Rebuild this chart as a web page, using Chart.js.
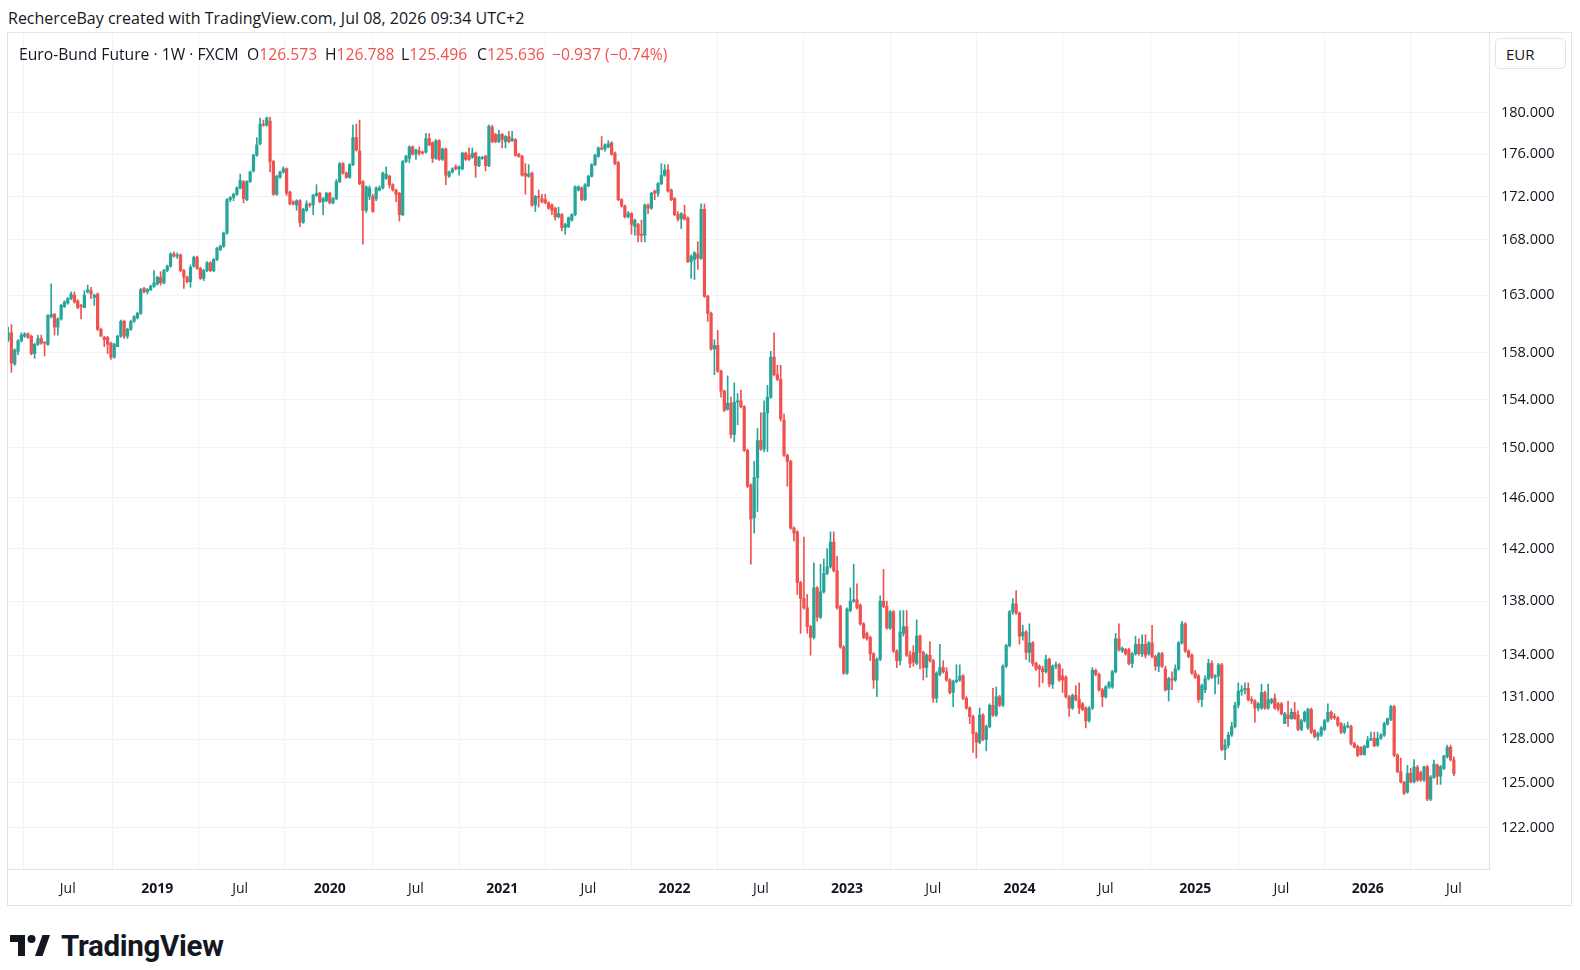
<!DOCTYPE html>
<html>
<head>
<meta charset="utf-8">
<script src="https://cdn.jsdelivr.net/npm/chart.js@4.4.1/dist/chart.umd.min.js"></script>
<style>
  body { margin: 0; width: 1580px; height: 970px; background: #fff; position: relative; overflow: hidden;
         font-family: "Open Sans", "Noto Sans", sans-serif; color: #131722; }
  #header { position: absolute; left: 8px; top: 7px; font-size: 16px; white-space: nowrap; }
  #frame { position: absolute; left: 7px; top: 32px; width: 1563px; height: 872px; border: 1px solid #e0e3eb; }
  #chartWrap { position: absolute; left: 8px; top: 33px; width: 1562px; height: 872px; }
  .lg { position: absolute; top: 43px; font-size: 15.7px; white-space: nowrap; }
  .dn { color: #ef5350; }
  #eur { position: absolute; left: 1495px; top: 38px; width: 71px; height: 31px; border: 1px solid #e0e3eb;
         border-radius: 5px; font-size: 15px; line-height: 30px; text-align: left; padding-left: 10px; box-sizing: border-box; background: #fff; }
  #logo { position: absolute; left: 10px; top: 929px; height: 34px; white-space: nowrap; }
  #logo span { font-family: Roboto, sans-serif; font-size: 29.5px; font-weight: 700; vertical-align: middle; letter-spacing: -0.3px; }
  #logo svg { vertical-align: middle; margin-right: 9px; }
</style>
</head>
<body>
<div id="header">RecherceBay created with TradingView.com, Jul 08, 2026 09:34 UTC+2</div>
<div id="frame"></div>
<div id="chartWrap"><canvas id="chart" width="1562" height="872"></canvas></div>
<div class="lg" style="left:19px">Euro-Bund Future · 1W · FXCM</div>
<div class="lg" style="left:247px">O<span class="dn">126.573</span></div>
<div class="lg" style="left:325px">H<span class="dn">126.788</span></div>
<div class="lg" style="left:401px">L<span class="dn">125.496</span></div>
<div class="lg" style="left:477px">C<span class="dn">125.636</span></div>
<div class="lg dn" style="left:552px">−0.937 (−0.74%)</div>
<div id="eur">EUR</div>
<div id="logo"><svg width="42" height="22" viewBox="0 0 42 22"><path d="M0 0H15V21H8V7H0Z" fill="#131722"/><circle cx="21.5" cy="4" r="4" fill="#131722"/><path d="M25 21L32.5 0H40L32.5 21Z" fill="#131722"/></svg><span>TradingView</span></div>

<script>
// weekly bars, first bar = week of 2018-02-26
const startDate = Date.UTC(2018, 1, 26);

const openPrices = [
  159.1,159.7,157.0,158.1,159.0,159.4,159.6,159.4,157.9,158.7,
  159.2,158.9,158.7,161.1,161.3,160.2,160.9,162.0,162.3,162.7,
  163.0,162.5,162.1,161.9,163.3,163.4,162.8,163.1,160.0,159.3,
  159.3,158.8,157.6,158.5,159.4,160.7,159.4,160.0,160.7,161.0,
  161.4,163.6,163.3,163.5,163.8,164.0,164.6,164.1,165.2,165.6,
  166.7,166.5,166.6,165.2,164.6,164.2,165.6,166.4,165.4,164.5,
  165.2,165.9,165.2,166.2,167.1,167.4,168.6,171.7,171.9,172.2,
  172.8,173.4,171.7,173.4,174.4,175.9,177.0,178.9,178.8,179.2,
  175.3,172.2,173.8,174.3,174.6,172.4,171.5,171.2,171.6,169.6,
  170.7,171.3,171.2,172.1,172.3,171.5,171.6,172.3,171.4,171.8,
  173.4,175.1,174.2,173.8,175.0,177.6,176.3,173.4,170.7,172.0,
  172.0,171.8,172.6,172.8,173.7,173.9,173.1,172.6,172.3,170.3,
  175.3,175.6,176.7,176.0,176.3,176.2,176.2,177.5,177.1,175.6,
  177.3,175.5,176.5,173.9,174.3,174.8,174.6,174.6,176.1,175.9,
  175.7,176.1,174.9,175.6,175.8,174.9,178.6,177.9,177.2,177.9,
  177.2,177.7,177.3,177.4,176.0,175.8,174.2,173.9,174.2,171.2,
  172.0,171.8,171.7,171.4,171.2,170.9,170.1,170.3,169.1,169.2,
  169.8,170.3,172.6,172.8,171.7,173.0,173.9,175.0,175.8,176.6,
  176.5,176.7,177.1,176.1,175.2,171.7,171.1,170.1,170.4,169.2,
  169.4,168.5,168.4,171.2,170.9,172.5,172.3,173.2,174.0,174.5,
  172.6,171.8,170.3,169.9,170.3,170.0,166.0,166.2,166.7,166.3,
  170.8,162.9,161.4,158.3,158.6,156.4,154.7,153.2,153.7,151.1,
  153.8,153.9,153.4,149.8,147.0,144.4,147.6,150.6,149.9,152.9,
  154.2,157.6,156.1,155.7,152.3,149.4,148.9,143.6,143.3,139.4,
  138.2,137.5,136.1,135.3,139.0,136.8,138.7,140.1,140.6,142.5,
  140.3,137.6,134.6,132.7,137.3,138.0,138.1,137.7,136.3,135.6,
  135.3,134.1,132.2,133.7,138.0,137.6,136.0,137.2,134.3,133.6,
  135.6,136.1,134.0,134.2,133.4,135.4,134.2,133.1,134.0,133.6,
  130.9,132.6,133.1,132.8,132.2,131.3,132.1,132.2,132.5,130.9,
  130.2,129.6,128.4,127.8,129.7,128.0,128.9,130.4,129.7,131.0,
  130.4,133.2,134.7,137.2,137.8,137.1,135.4,135.7,134.2,134.9,
  133.4,133.2,133.0,132.8,133.7,131.9,133.2,133.3,132.5,132.4,
  131.0,130.2,131.1,130.8,130.5,130.2,129.3,130.2,132.9,132.6,
  131.5,131.0,131.7,131.7,132.8,135.2,134.3,134.4,134.4,133.4,
  134.1,134.8,134.1,134.8,134.1,134.9,133.9,133.2,134.1,133.0,
  131.5,132.3,132.2,133.0,134.9,136.3,134.3,134.0,132.7,132.5,
  130.8,131.5,132.3,133.4,132.4,132.5,133.3,127.3,127.6,128.3,
  128.9,130.4,131.4,131.5,131.6,130.8,130.7,130.2,130.2,131.3,
  130.2,130.6,130.9,130.5,130.5,129.1,129.7,129.45,129.9,129.7,
  128.7,129.3,128.8,130.1,128.6,128.2,128.3,128.7,129.3,129.9,
  129.6,129.5,129.1,128.5,128.85,128.9,127.7,127.5,127.45,126.95,
  127.45,127.95,128.07,127.6,128.07,128.3,129.06,129.4,130.3,126.9,
  125.76,125.07,124.38,125.65,125.07,126.06,125.7,125.2,126.1,123.9,
  125.37,126.22,125.46,126.0,126.8,127.45,126.573
];

const highPrices = [
  160.2,160.4,158.3,159.1,159.7,159.7,159.7,159.5,158.8,159.5,
  159.5,158.9,161.3,164.0,161.4,161.0,162.2,162.5,162.8,163.3,
  163.3,162.6,162.2,163.4,163.9,163.7,163.1,163.2,160.1,159.4,
  159.4,158.9,158.8,159.5,160.8,160.8,160.1,160.8,161.2,161.5,
  163.6,163.7,163.6,163.9,165.2,164.7,165.1,165.3,165.7,166.8,
  166.9,166.8,166.7,165.3,164.7,165.7,166.5,166.5,165.5,165.3,
  166.0,166.0,166.3,167.3,167.5,168.7,171.8,172.0,172.3,172.9,
  174.1,173.5,173.5,174.4,176.0,177.6,179.5,179.3,179.6,179.6,
  175.4,174.0,174.4,174.8,174.7,172.5,171.6,171.7,171.7,170.9,
  171.6,171.4,172.2,173.1,172.4,171.9,172.4,172.4,171.9,173.6,
  175.2,175.2,174.3,175.1,178.8,178.9,179.3,173.5,173.0,173.0,
  172.2,172.9,173.0,174.3,174.8,174.0,173.2,172.7,172.4,175.4,
  175.9,176.8,176.8,176.5,176.7,176.3,178.0,178.0,177.2,177.4,
  177.4,176.6,176.6,174.4,174.7,175.0,174.9,176.2,176.2,176.6,
  176.6,176.2,175.8,175.8,175.9,178.8,178.8,178.0,178.3,178.0,
  177.8,178.2,178.2,177.5,176.1,175.9,175.1,175.0,174.3,172.1,
  172.6,172.2,172.2,171.5,171.3,171.0,171.0,170.4,169.5,170.1,
  170.4,173.0,173.0,172.9,173.2,174.0,175.1,176.0,176.7,177.7,
  177.0,177.3,177.2,176.2,175.3,171.8,171.2,170.6,170.5,169.9,
  169.5,169.8,171.3,171.3,172.4,172.6,173.3,175.1,175.0,175.0,
  172.7,171.9,170.6,170.5,171.2,170.1,166.6,166.9,167.8,171.3,
  171.3,163.0,161.5,159.1,159.9,156.5,154.8,156.0,154.2,155.4,
  154.5,154.8,153.5,149.9,147.1,148.9,151.6,152.9,153.9,155.2,
  158.1,159.7,156.9,156.9,152.8,149.5,149.0,143.7,143.4,139.5,
  142.9,138.5,136.2,140.9,139.1,140.8,141.2,142.0,143.3,143.3,
  141.4,137.7,134.7,137.5,139.0,140.8,139.3,137.8,136.4,135.7,
  135.4,134.2,133.8,138.4,140.4,138.0,137.3,137.3,134.4,137.3,
  137.3,137.3,134.3,134.7,136.6,135.5,134.3,134.1,135.0,133.7,
  132.8,134.8,133.6,133.1,132.3,132.2,133.3,133.3,132.6,131.0,
  130.3,129.7,128.5,130.2,129.8,129.0,130.5,131.6,131.7,131.1,
  133.3,134.8,137.3,138.2,138.8,137.2,136.2,135.8,136.3,135.0,
  133.5,133.3,133.2,134.0,133.8,133.3,133.5,133.4,133.0,132.5,
  131.1,131.2,131.8,132.0,130.6,130.3,130.3,133.1,133.0,132.7,
  131.6,131.8,132.1,132.9,135.6,136.3,134.6,134.5,134.5,134.2,
  135.4,135.2,135.5,135.5,135.0,136.2,134.0,134.2,134.2,133.2,
  132.4,132.8,133.3,135.0,136.5,136.4,134.4,134.1,132.9,132.6,
  131.9,132.5,133.7,133.6,132.6,133.4,133.4,128.0,128.5,129.2,
  130.6,132.0,131.8,132.0,132.0,131.0,130.8,130.6,131.9,131.4,
  131.9,130.9,131.2,130.6,130.6,129.9,130.7,130.15,130.6,130.0,
  129.4,130.0,130.2,130.2,128.7,128.5,128.9,129.4,130.5,130.0,
  129.8,129.6,129.2,129.1,129.2,129.0,127.8,127.6,127.5,127.6,
  128.2,128.5,128.5,128.5,128.4,129.2,129.5,130.4,130.4,127.0,
  126.7,125.1,126.2,126.0,126.6,126.2,125.8,126.15,126.2,125.5,
  126.57,126.3,126.2,126.9,127.6,127.6,126.788
];

const lowPrices = [
  158.9,156.3,156.9,157.8,158.9,159.3,159.2,157.8,157.5,158.6,
  158.7,157.7,158.6,161.0,159.5,159.5,160.8,161.9,162.2,162.6,
  162.3,161.8,160.9,161.9,163.2,162.7,162.1,159.9,159.4,158.5,
  157.9,157.4,157.5,158.5,159.3,159.2,159.2,159.9,160.6,160.9,
  161.3,163.2,163.1,163.4,163.7,163.9,163.9,164.0,165.1,165.5,
  166.4,166.3,165.1,163.6,164.1,163.7,165.5,165.3,164.4,164.3,
  165.1,165.1,165.1,166.1,167.0,167.3,168.5,171.5,171.6,172.1,
  172.7,171.4,171.6,173.3,174.3,175.8,176.9,178.7,178.7,174.3,
  172.1,172.1,173.7,174.2,172.1,171.2,171.2,170.7,169.2,169.5,
  170.6,171.0,170.3,172.0,171.4,170.3,171.5,171.3,171.3,171.7,
  173.3,174.1,173.7,173.7,174.9,176.3,173.1,167.6,170.5,171.7,
  170.5,171.6,172.5,172.7,173.6,172.8,172.5,171.5,169.7,170.2,
  175.2,175.2,175.9,175.5,175.9,176.0,176.1,176.8,175.2,175.5,
  175.4,175.4,173.1,173.8,174.2,174.5,174.0,174.5,175.4,175.4,
  175.6,173.8,174.8,175.5,174.4,174.8,177.1,177.1,177.1,176.6,
  176.6,177.1,177.2,175.8,175.7,173.9,172.2,173.8,171.1,170.6,
  171.0,171.4,171.3,170.8,170.3,169.8,170.0,168.8,168.5,169.1,
  169.7,170.2,172.5,171.6,171.6,172.9,173.8,174.9,175.7,176.4,
  176.3,176.6,175.9,175.0,171.6,171.0,170.0,170.0,168.5,168.4,
  167.8,167.8,167.8,170.4,170.8,171.7,172.0,173.1,173.9,172.4,
  171.6,170.2,169.7,169.0,169.8,165.9,164.5,164.4,165.3,166.2,
  162.8,160.7,158.2,156.1,156.3,154.2,153.0,153.1,150.8,150.5,
  151.9,153.3,149.7,146.8,140.8,143.2,144.9,149.8,149.7,149.7,
  154.1,156.0,155.6,152.2,149.3,146.9,143.5,142.6,138.5,135.6,
  137.4,135.6,134.0,135.2,136.5,136.7,138.6,140.0,140.5,140.2,
  137.4,134.5,132.6,132.6,137.2,137.9,137.4,136.2,135.2,135.1,
  133.6,131.6,131.0,133.6,137.5,135.9,135.9,134.2,133.1,133.3,
  135.4,133.9,133.1,133.2,133.3,133.0,132.2,132.4,133.5,130.6,
  130.6,132.5,132.7,132.1,131.2,130.3,132.0,132.1,130.8,130.1,
  129.1,127.1,126.7,127.7,127.9,127.2,128.8,129.6,129.6,130.3,
  130.3,133.1,134.6,137.0,137.0,134.8,135.1,133.7,133.5,133.2,
  132.9,131.7,132.0,132.7,131.7,131.6,133.0,132.1,131.3,130.9,
  129.6,130.1,130.7,129.8,130.0,128.8,129.2,130.1,132.5,131.4,
  130.3,130.9,131.6,131.6,132.7,134.3,134.2,134.0,133.3,133.1,
  134.0,134.0,133.9,133.8,134.0,133.8,132.9,132.8,133.1,131.4,
  130.7,131.5,132.1,132.9,134.8,134.2,133.8,132.6,132.3,130.6,
  130.3,131.3,132.2,132.3,131.2,131.9,127.2,126.6,127.4,128.2,
  128.8,130.2,131.1,131.2,130.7,130.5,129.2,130.0,130.1,130.1,
  130.1,130.5,130.1,130.0,129.7,129.1,128.9,129.4,129.4,128.6,
  128.6,129.2,128.7,128.4,128.1,127.95,128.2,128.6,129.2,129.4,
  129.4,128.9,128.4,128.4,128.8,127.6,127.4,126.8,126.9,126.9,
  127.4,127.9,127.5,127.5,128.0,128.2,129.0,129.3,126.8,125.7,
  125.0,124.2,124.3,125.0,125.0,125.1,125.1,125.1,123.8,123.8,
  125.3,124.9,124.9,125.9,126.7,126.5,125.496
];

const closePrices = [
  159.7,157.1,158.2,159.0,159.5,159.6,159.3,157.9,158.7,159.2,
  158.8,158.8,161.2,161.3,160.2,160.9,162.1,162.4,162.7,163.1,
  162.4,161.9,162.0,163.0,163.5,163.1,163.0,160.0,159.4,159.1,
  158.7,157.6,158.7,159.4,160.7,159.4,160.0,160.7,161.1,161.4,
  163.5,163.3,163.5,163.8,164.1,164.6,164.1,165.2,165.6,166.7,
  166.5,166.6,165.2,164.6,164.2,165.5,166.4,165.4,164.5,165.2,
  165.9,165.2,166.2,167.2,167.4,168.6,171.7,171.9,172.2,172.8,
  173.5,171.8,173.4,174.3,175.9,176.9,178.9,178.8,179.5,175.3,
  172.2,173.9,174.3,174.6,172.3,171.3,171.3,171.6,169.6,170.8,
  171.3,171.2,172.1,172.3,171.5,171.8,172.3,171.4,171.8,173.4,
  175.1,174.2,173.8,175.0,177.6,176.4,173.2,170.7,172.9,172.8,
  170.6,172.8,172.8,174.2,174.1,173.1,172.6,172.2,170.3,175.3,
  175.8,176.7,176.0,176.4,176.1,176.1,177.5,176.9,175.6,177.3,
  175.5,176.5,174.0,174.3,174.6,174.6,174.8,176.1,175.5,175.5,
  176.1,174.9,175.7,175.7,174.9,178.7,177.2,177.2,177.9,177.4,
  177.7,177.2,177.5,175.9,175.8,174.0,173.9,174.1,171.2,172.0,
  171.9,171.5,171.4,170.9,170.7,170.1,170.4,169.1,169.4,170.0,
  170.3,172.9,172.9,171.7,173.1,173.9,175.0,175.9,176.6,176.5,
  176.9,177.0,176.0,175.1,171.7,171.1,170.1,170.4,169.4,169.8,
  168.4,168.4,171.2,170.9,172.3,172.3,173.2,174.0,174.5,172.5,
  171.7,170.3,169.9,170.4,169.9,166.0,166.5,166.8,166.3,170.8,
  162.9,161.4,158.3,158.6,156.4,154.7,153.1,153.7,151.1,153.8,
  153.9,153.4,149.8,146.9,144.3,147.6,150.6,149.9,152.9,154.2,
  157.6,156.1,155.7,152.4,149.4,148.9,143.6,143.2,139.4,138.2,
  137.5,136.1,135.3,139.0,136.8,138.7,140.1,140.6,142.5,140.3,
  137.5,134.6,132.7,137.4,138.0,138.1,137.5,136.3,135.3,135.2,
  134.1,132.2,133.7,138.0,137.6,136.0,137.2,134.3,133.6,135.7,
  136.1,134.0,133.4,133.5,135.4,134.2,133.1,134.0,133.6,130.9,
  132.7,133.1,132.8,132.2,131.3,132.1,132.2,132.5,130.9,130.2,
  129.6,128.4,127.8,129.7,128.0,128.9,130.4,129.7,131.0,130.4,
  133.2,134.7,137.2,137.8,137.1,135.4,135.7,134.2,134.9,133.4,
  133.0,133.0,132.8,133.7,131.9,133.2,133.3,132.2,132.2,131.0,
  130.2,131.1,130.8,130.2,130.1,129.3,130.2,132.9,132.6,131.5,
  131.0,131.7,132.0,132.8,135.2,134.4,134.5,134.1,133.4,134.1,
  134.8,134.1,134.8,134.0,134.9,133.9,133.2,134.1,133.2,131.5,
  132.3,132.2,133.0,134.9,136.3,134.3,133.9,132.7,132.4,130.8,
  131.8,132.3,133.4,132.4,132.5,133.3,127.3,127.6,128.3,128.9,
  130.4,131.4,131.5,131.6,130.8,130.7,130.2,130.5,131.3,130.2,
  130.8,130.8,130.2,130.15,129.8,129.8,129.45,129.9,129.45,128.7,
  129.3,129.9,130.1,128.5,128.2,128.4,128.8,129.3,129.9,129.5,
  129.5,129.0,128.5,128.9,128.95,127.7,127.45,126.9,126.95,127.5,
  127.95,128.07,127.55,128.07,128.3,129.1,129.45,130.3,126.9,125.76,
  125.07,124.31,125.65,125.07,126.1,125.2,125.2,126.1,123.9,125.4,
  126.29,125.46,126.1,126.85,127.45,126.6,125.636
];

const priceTicks = [122, 125, 128, 131, 134, 138, 142, 146, 150, 154, 158, 163, 168, 172, 176, 180];

const UP = "#26a69a";
const DOWN = "#ef5350";
const TEXT = "#131722";
const GRID = "#f0f3fa";
const LINE = "#e0e3eb";
const FONT = "'Open Sans', 'Noto Sans', sans-serif";

const barCount = closePrices.length;
const candleColors = closePrices.map((c, i) => (c >= openPrices[i] ? UP : DOWN));

function weekDate(i) {
  return new Date(startDate + i * 7 * 86400000);
}

// first weekly bar of January and July gets a label
const timeTicks = [];
for (let i = 1; i < 447; i++) {
  const d = weekDate(i);
  const prev = weekDate(i - 1);
  const m = d.getUTCMonth();
  if (m !== prev.getUTCMonth() && (m === 0 || m === 6)) {
    timeTicks.push(i);
  }
}

const wickData = [];
const bodyData = [];
for (let i = 0; i < barCount; i++) {
  wickData.push({ x: i, y: [lowPrices[i], highPrices[i]] });
  bodyData.push({ x: i, y: [openPrices[i], closePrices[i]] });
}

new Chart(document.getElementById("chart"), {
  type: "bar",
  data: {
    datasets: [
      {
        data: wickData,
        backgroundColor: candleColors,
        barThickness: 1,
        grouped: false,
        order: 2
      },
      {
        data: bodyData,
        backgroundColor: candleColors,
        barThickness: 2.6,
        minBarLength: 1,
        grouped: false,
        order: 1
      }
    ]
  },
  options: {
    responsive: false,
    animation: false,
    layout: { padding: 0 },
    plugins: {
      legend: { display: false },
      tooltip: { enabled: false }
    },
    scales: {
      x: {
        type: "linear",
        min: -0.03,
        max: 446.6,
        offset: false,
        bounds: "data",
        grid: { color: GRID, drawTicks: false },
        border: { display: true, color: LINE },
        afterBuildTicks: (scale) => {
          scale.ticks = timeTicks.map((v) => ({ value: v }));
        },
        afterFit: (scale) => {
          scale.height = 36;
          scale.paddingLeft = 0;
          scale.paddingRight = 0;
        },
        ticks: {
          autoSkip: false,
          maxRotation: 0,
          padding: 12,
          color: TEXT,
          font: (ctx) => {
            const v = ctx.tick ? ctx.tick.value : 0;
            const isYear = weekDate(v).getUTCMonth() === 0;
            return { family: FONT, size: 14, weight: isYear ? "bold" : "normal" };
          },
          callback: (v) => {
            const d = weekDate(v);
            return d.getUTCMonth() === 0 ? String(d.getUTCFullYear()) : "Jul";
          }
        }
      },
      y: {
        type: "logarithmic",
        position: "right",
        min: 119.28,
        max: 188.0,
        bounds: "data",
        grid: { color: GRID, drawTicks: false },
        border: { display: true, color: LINE },
        afterBuildTicks: (scale) => {
          scale.ticks = priceTicks.map((v) => ({ value: v }));
        },
        afterFit: (scale) => {
          scale.width = 81;
          scale.paddingTop = 0;
          scale.paddingBottom = 0;
        },
        ticks: {
          padding: 12,
          color: TEXT,
          font: { family: FONT, size: 14.5 },
          callback: (v) => Number(v).toFixed(3)
        }
      }
    }
  }
});
</script>
</body>
</html>
